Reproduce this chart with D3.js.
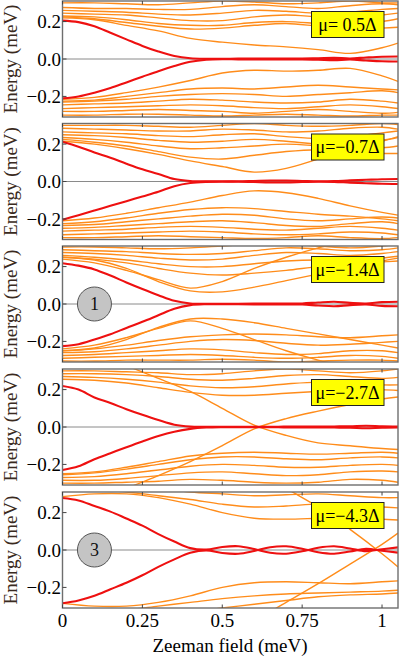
<!DOCTYPE html>
<html><head><meta charset="utf-8">
<script src="https://cdn.jsdelivr.net/npm/d3@7"></script>
<style>
html,body{margin:0;padding:0;background:#fff;}
svg{display:block;}
</style></head>
<body>
<svg id="chart" width="399" height="658" font-family="'Liberation Serif', 'DejaVu Serif', serif"></svg>
<script>
// ---------- data ----------
const xs = [0, 0.1, 0.2, 0.3, 0.4, 0.5, 0.6, 0.7, 0.8, 0.9, 1.0, 1.05];
const rx = [0,0.05,0.1,0.15,0.2,0.25,0.3,0.35,0.4,0.45,0.5,0.55,0.6,0.65,0.7,0.75,0.8,0.85,0.9,0.95,1.0,1.05];
const muLabels = ["μ= 0.5Δ", "μ=−0.7Δ", "μ=−1.4Δ", "μ=−2.7Δ", "μ=−4.3Δ"];
const badgeLabels = [null, null, "1", null, "3"];
const xTicks = [0, 0.25, 0.5, 0.75, 1];
const xTickLabels = ["0", "0.25", "0.5", "0.75", "1"];
const yTicks = [-0.2, 0, 0.2];
const yTickLabels = ["−0.2", "0.0", "0.2"];

// red (lowest) states, sampled at rx
const red1Up = [.205,.197,.175,.14,.105,.07,.04,.016,.004,.001,.001,.002,.002,.003,.002,.003,.004,.006,.003,.008,.012,.013];
const red1Dn = [-.21,-.2,-.18,-.155,-.125,-.095,-.065,-.038,-.015,-.004,-.001,-.002,-.002,-.003,-.002,-.003,-.004,-.006,-.003,-.008,-.012,-.013];
const red2Up = [.212,.186,.155,.127,.095,.065,.04,.013,.003,.001,.001,.001,.003,.005,.005,.003,.001,.002,.006,.009,.012,.013];
const red2Dn = [-.205,-.18,-.155,-.13,-.105,-.08,-.055,-.025,-.008,-.002,-.001,-.001,-.003,-.005,-.005,-.003,-.001,-.002,-.006,-.009,-.012,-.013];
const red3Up = [.218,.205,.185,.152,.115,.08,.047,.017,.003,.001,.001,.001,.002,.002,.003,.003,.008,.012,.006,.003,.01,.012];
const red3Dn = [-.225,-.215,-.19,-.162,-.128,-.095,-.06,-.025,-.006,-.001,-.001,-.001,-.002,-.002,-.003,-.003,-.008,-.012,-.006,-.003,-.01,-.012];
const red4Up = [.219,.2,.158,.128,.095,.065,.037,.012,.002,.001,.001,.001,.001,.001,.002,.002,.002,.003,.004,.007,.004,.003];
const red4Dn = [-.23,-.21,-.172,-.14,-.108,-.077,-.048,-.025,-.01,-.003,-.001,-.001,-.001,-.001,-.002,-.002,-.002,-.003,-.004,-.007,-.004,-.003];
const red5Up = [.278,.265,.235,.205,.168,.13,.085,.045,.01,.002,.016,.02,.005,-.015,-.02,-.007,.012,.02,.008,-.006,.004,.014];
const red5Dn = [-.285,-.27,-.245,-.21,-.175,-.135,-.09,-.05,-.015,-.002,-.016,-.02,-.005,.015,.02,.007,-.012,-.02,-.008,.006,-.004,-.014];

// orange (higher) states, sampled at xs
const orange1 = [
  [.30,.30,.295,.29,.30,.31,.305,.295,.30,.31,.30,.30],
  [.275,.27,.27,.265,.265,.28,.29,.28,.27,.285,.295,.29],
  [.26,.255,.25,.24,.235,.245,.26,.255,.245,.25,.265,.27],
  [.245,.24,.235,.22,.205,.205,.225,.235,.225,.215,.235,.245],
  [.23,.225,.21,.19,.18,.18,.195,.2,.19,.18,.2,.215],
  [.225,.215,.195,.175,.16,.165,.18,.19,.175,.16,.165,.17],
  [.22,.21,.18,.15,.11,.09,.075,.065,.05,.03,.06,.085],
  [-.30,-.30,-.295,-.295,-.3,-.305,-.3,-.295,-.3,-.305,-.3,-.3],
  [-.28,-.28,-.275,-.27,-.275,-.28,-.29,-.28,-.27,-.28,-.29,-.285],
  [-.265,-.26,-.255,-.25,-.245,-.25,-.26,-.265,-.255,-.245,-.255,-.265],
  [-.245,-.24,-.235,-.225,-.215,-.22,-.23,-.235,-.23,-.215,-.225,-.235],
  [-.23,-.225,-.215,-.2,-.19,-.185,-.19,-.2,-.19,-.18,-.17,-.18],
  [-.225,-.22,-.2,-.18,-.16,-.155,-.16,-.15,-.14,-.15,-.16,-.165],
  [-.215,-.205,-.18,-.15,-.115,-.075,-.06,-.065,-.06,-.05,-.09,-.12]
];
const orange2 = [
  [.30,.30,.30,.295,.29,.30,.31,.30,.295,.30,.31,.305],
  [.285,.28,.275,.27,.27,.28,.275,.265,.27,.285,.29,.28],
  [.265,.26,.255,.245,.24,.25,.255,.24,.23,.24,.26,.27],
  [.25,.245,.235,.22,.21,.215,.225,.215,.2,.205,.22,.235],
  [.235,.225,.21,.19,.175,.18,.19,.2,.19,.175,.18,.19],
  [.225,.21,.19,.16,.13,.12,.14,.16,.17,.165,.15,.15],
  [.215,.2,.175,.145,.11,.08,.05,.07,.12,.17,.215,.24],
  [-.30,-.30,-.295,-.29,-.295,-.3,-.305,-.3,-.29,-.3,-.305,-.3],
  [-.285,-.28,-.275,-.27,-.265,-.27,-.28,-.285,-.28,-.27,-.275,-.285],
  [-.265,-.26,-.255,-.245,-.24,-.245,-.255,-.26,-.25,-.24,-.25,-.26],
  [-.25,-.245,-.235,-.225,-.215,-.21,-.22,-.235,-.24,-.225,-.215,-.225],
  [-.235,-.23,-.215,-.2,-.185,-.175,-.18,-.2,-.21,-.2,-.19,-.195],
  [-.225,-.215,-.195,-.17,-.15,-.14,-.145,-.16,-.175,-.185,-.2,-.21],
  [-.21,-.195,-.17,-.14,-.11,-.075,-.05,-.06,-.09,-.13,-.165,-.18]
];
const orange3 = [
  [.305,.305,.3,.295,.3,.31,.32,.32,.31,.3,.31,.32],
  [.29,.285,.28,.27,.265,.27,.285,.3,.295,.285,.29,.3],
  [.275,.27,.26,.245,.235,.24,.26,.275,.27,.26,.27,.28],
  [.26,.25,.235,.215,.2,.2,.215,.23,.235,.23,.245,.255],
  [.25,.24,.22,.19,.165,.155,.165,.18,.2,.215,.225,.23],
  [.25,.235,.19,.12,.07,.065,.09,.125,.16,.195,.23,.245],
  [.24,.22,.18,.13,.085,.12,.19,.25,.3,.34,.38,.4],
  [-.305,-.305,-.3,-.3,-.3,-.295,-.3,-.31,-.305,-.3,-.3,-.305],
  [-.29,-.285,-.28,-.275,-.27,-.275,-.285,-.29,-.285,-.275,-.28,-.29],
  [-.275,-.27,-.26,-.25,-.24,-.245,-.26,-.27,-.265,-.25,-.25,-.26],
  [-.26,-.255,-.24,-.22,-.2,-.19,-.195,-.21,-.22,-.215,-.205,-.2],
  [-.25,-.24,-.22,-.195,-.175,-.165,-.16,-.165,-.175,-.18,-.17,-.165],
  [-.25,-.235,-.19,-.125,-.08,-.08,-.1,-.13,-.16,-.19,-.22,-.235],
  [-.24,-.22,-.18,-.13,-.09,-.13,-.19,-.25,-.3,-.34,-.38,-.4]
];
const orange4 = [
  [.30,.30,.295,.29,.28,.285,.3,.31,.3,.29,.3,.31],
  [.285,.285,.28,.27,.255,.25,.26,.275,.28,.27,.26,.265],
  [.27,.265,.255,.24,.22,.21,.215,.23,.24,.235,.225,.225],
  [.255,.25,.235,.21,.185,.17,.17,.18,.19,.2,.2,.195],
  [.5,.42,.33,.26,.19,.1,.01,-.045,-.085,-.1,-.115,-.12],
  [-.5,-.42,-.33,-.26,-.185,-.1,-.01,.045,.085,.12,.15,.16],
  [-.30,-.30,-.295,-.29,-.28,-.285,-.295,-.3,-.295,-.28,-.285,-.295],
  [-.285,-.285,-.275,-.26,-.245,-.24,-.25,-.26,-.255,-.24,-.235,-.24],
  [-.27,-.265,-.25,-.23,-.21,-.2,-.205,-.215,-.215,-.205,-.2,-.205],
  [-.255,-.245,-.225,-.2,-.175,-.16,-.16,-.17,-.175,-.165,-.16,-.165],
  [-.25,-.24,-.215,-.185,-.155,-.14,-.135,-.14,-.145,-.14,-.135,-.14]
];
const orange5 = [
  [.285,.3,.3,.28,.245,.2,.17,.165,.17,.175,.165,.16],
  [.32,.32,.31,.29,.27,.245,.23,.235,.245,.24,.23,.225],
  [.35,.35,.34,.33,.31,.3,.29,.295,.3,.29,.28,.28],
  [1.0,.9,.8,.72,.66,.55,.44,.33,.23,.11,-.02,-.09],
  [-1.0,-.9,-.8,-.72,-.62,-.5,-.38,-.28,-.18,-.075,.03,.09],
  [-.285,-.3,-.3,-.28,-.245,-.2,-.175,-.17,-.175,-.18,-.17,-.165],
  [-.33,-.33,-.32,-.3,-.28,-.26,-.245,-.235,-.23,-.225,-.22,-.215],
  [-.36,-.36,-.35,-.34,-.33,-.31,-.29,-.27,-.25,-.24,-.235,-.23]
];

const panels = [
  {mu: muLabels[0], badge: badgeLabels[0], redUp: red1Up, redDn: red1Dn, orange: orange1},
  {mu: muLabels[1], badge: badgeLabels[1], redUp: red2Up, redDn: red2Dn, orange: orange2},
  {mu: muLabels[2], badge: badgeLabels[2], redUp: red3Up, redDn: red3Dn, orange: orange3},
  {mu: muLabels[3], badge: badgeLabels[3], redUp: red4Up, redDn: red4Dn, orange: orange4},
  {mu: muLabels[4], badge: badgeLabels[4], redUp: red5Up, redDn: red5Dn, orange: orange5}
];

// ---------- layout ----------
const svg = d3.select("#chart");
const FONT = "'Liberation Serif', 'DejaVu Serif', serif";
const left = 62.5, right = 398;
const panelH = 116;
const tops = [1, 123.5, 246, 369, 492];
const x = d3.scaleLinear().domain([0, 1.05]).range([left, right]);
const ORANGE = "#ff8c1a", RED = "#ee1010", FRAME = "#6e6e6e";
const FS = 19;

function txt(sel, fs) { return sel.append("text").attr("font-family", FONT).attr("font-size", fs || FS); }

panels.forEach((p, i) => {
  const top = tops[i];
  const y = d3.scaleLinear().domain([-0.31, 0.31]).range([top + panelH, top]);
  const g = svg.append("g");
  const clipId = "clip" + i;
  svg.append("clipPath").attr("id", clipId)
    .append("rect").attr("x", left).attr("y", top).attr("width", right - left).attr("height", panelH);

  const plot = g.append("g").attr("clip-path", `url(#${clipId})`);
  plot.append("line").attr("x1", left).attr("x2", right)
    .attr("y1", y(0)).attr("y2", y(0)).attr("stroke", "#8a8a8a").attr("stroke-width", 1);

  const line = d3.line().curve(d3.curveCatmullRom.alpha(0.5));
  p.orange.forEach(arr => {
    plot.append("path")
      .attr("d", line(arr.map((v, k) => [x(xs[k]), y(v)])))
      .attr("fill", "none").attr("stroke", ORANGE).attr("stroke-width", 1.4);
  });
  [p.redUp, p.redDn].forEach(arr => {
    plot.append("path")
      .attr("d", line(arr.map((v, k) => [x(rx[k]), y(v)])))
      .attr("fill", "none").attr("stroke", RED).attr("stroke-width", 2.1);
  });

  g.append("rect").attr("x", left).attr("y", top).attr("width", right - left).attr("height", panelH)
    .attr("fill", "none").attr("stroke", FRAME).attr("stroke-width", 1.4);
  xTicks.forEach(t => {
    g.append("line").attr("x1", x(t)).attr("x2", x(t)).attr("y1", top + panelH).attr("y2", top + panelH - 3.5)
      .attr("stroke", "#444").attr("stroke-width", 1);
    g.append("line").attr("x1", x(t)).attr("x2", x(t)).attr("y1", top).attr("y2", top + 3.5)
      .attr("stroke", "#444").attr("stroke-width", 1);
  });
  yTicks.forEach((t, k) => {
    g.append("line").attr("x1", left).attr("x2", left + 4).attr("y1", y(t)).attr("y2", y(t))
      .attr("stroke", "#444").attr("stroke-width", 1);
    txt(g).attr("x", left - 1.5).attr("y", y(t)).attr("dy", "0.35em")
      .attr("text-anchor", "end").attr("fill", "#000").text(yTickLabels[k]);
  });
  txt(g).attr("transform", `translate(17,${y(0)}) rotate(-90)`)
    .attr("text-anchor", "middle").attr("fill", "#3a2a20").text("Energy (meV)");

  const lg = g.append("g");
  lg.append("rect").attr("x", 311.5).attr("y", top + 10.5).attr("width", 72.5).attr("height", 26)
    .attr("fill", "#ffff00").attr("stroke", "#222").attr("stroke-width", 1);
  txt(lg, 18).attr("x", 347.5).attr("y", top + 29.5).attr("text-anchor", "middle")
    .attr("fill", "#000").text(p.mu);

  if (p.badge) {
    g.append("circle").attr("cx", x(0.1)).attr("cy", y(0)).attr("r", 17)
      .attr("fill", "#c4c4c4").attr("stroke", "#555").attr("stroke-width", 1);
    txt(g, 18).attr("x", x(0.1)).attr("y", y(0)).attr("dy", "0.35em").attr("text-anchor", "middle")
      .attr("fill", "#111").text(p.badge);
  }
});

const bottom = tops[4] + panelH;
xTicks.forEach((t, k) => {
  txt(svg).attr("x", x(t)).attr("y", bottom + 18.5).attr("text-anchor", "middle")
    .attr("fill", "#000").text(xTickLabels[k]);
});
txt(svg).attr("x", 230).attr("y", bottom + 44).attr("text-anchor", "middle")
  .attr("fill", "#000").text("Zeeman field (meV)");
</script>
</body></html>
